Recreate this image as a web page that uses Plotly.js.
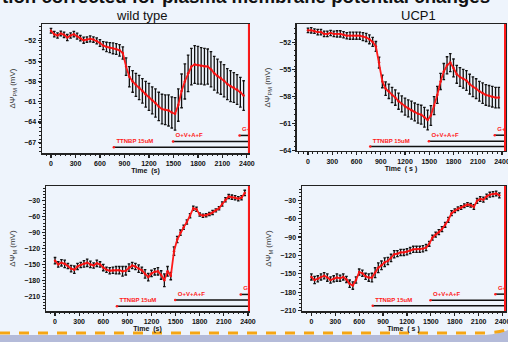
<!DOCTYPE html>
<html><head><meta charset="utf-8">
<script src="https://cdn.plot.ly/plotly-3.0.1.min.js"></script>
<style>html,body{margin:0;padding:0;background:#eef4fc}#chart{width:508px;height:342px}</style>
</head><body><div id="chart"></div>
<script>
const time = [0,40,80,120,160,200,240,280,320,360,400,440,480,520,560,600,640,680,720,760,800,840,880,920,960,1000,1040,1080,1120,1160,1200,1240,1280,1320,1360,1400,1440,1480,1520,1560,1600,1640,1680,1720,1760,1800,1840,1880,1920,1960,2000,2040,2080,2120,2160,2200,2240,2280,2320,2360];

const wtPM = [-50.5,-51.0,-51.2,-50.9,-51.1,-51.5,-51.2,-51.0,-51.3,-51.6,-51.9,-51.8,-51.7,-51.8,-52.0,
  -52.3,-52.7,-52.9,-53.0,-53.1,-53.2,-53.4,-53.8,
  -55.8,-57.3,-58.0,-58.5,-58.9,-59.4,-59.9,-60.3,-60.8,-61.2,-61.7,-62.1,-62.2,-62.3,-62.6,-62.8,
  -61.5,-59.4,-58.0,-56.8,-55.8,-55.5,-55.6,-55.7,-55.8,-55.8,-56.2,-56.8,-57.2,-57.5,-57.9,-58.4,-58.7,-58.9,-59.2,-59.6,-60.1];
const wtPMerr = [0.35,0.4,0.4,0.35,0.4,0.45,0.4,0.4,0.45,0.4,0.45,0.4,0.45,0.4,0.45,
  0.5,0.6,0.7,0.75,0.8,0.8,0.85,0.9,
  1.3,1.5,1.6,1.7,1.8,1.8,1.9,2.0,2.0,2.1,2.1,2.2,2.2,2.3,2.3,2.4,
  2.4,2.5,2.6,2.7,2.7,2.8,2.8,2.7,2.7,2.6,2.6,2.5,2.5,2.4,2.4,2.3,2.3,2.2,2.2,2.2,2.2];

const ucpPM = [-50.6,-50.6,-50.7,-50.8,-50.8,-51.0,-51.0,-50.9,-51.0,-51.0,-51.0,-51.1,-51.2,-51.2,-51.2,
  -51.2,-51.2,-51.3,-51.4,-51.6,-51.9,-52.4,-54.2,
  -56.3,-57.1,-57.4,-57.8,-58.1,-58.5,-58.8,-59.1,-59.3,-59.5,-59.7,-59.9,-60.0,-60.3,-60.6,-60.1,
  -59.0,-57.8,-56.3,-55.2,-54.5,-54.2,-54.8,-55.5,-55.8,-56.0,-56.2,-56.6,-56.9,-57.1,-57.4,-57.6,-57.8,-57.9,-58.0,-58.1,-58.1];
const ucpPMerr = [0.25,0.3,0.25,0.3,0.3,0.3,0.3,0.3,0.3,0.35,0.35,0.35,0.35,0.4,0.4,
  0.4,0.4,0.45,0.45,0.5,0.5,0.55,0.6,
  0.7,0.75,0.8,0.85,0.85,0.9,0.9,0.95,0.95,1.0,1.0,1.05,1.05,1.1,1.1,1.1,
  1.0,0.95,0.9,0.9,0.95,1.0,1.0,1.0,1.05,1.05,1.1,1.1,1.1,1.1,1.1,1.15,1.15,1.15,1.15,1.15,1.15];

const wtM = [-143,-150,-147,-149,-153,-158,-160,-154,-151,-149,-147,-150,-152,-148,-150,
  -156,-160,-162,-161,-161,-161,-163,-162,
  -156,-152,-154,-158,-161,-168,-174,-167,-164,-163,-170,-180,-163,-172,-125,-103,
  -90,-80,-70,-58,-44,-46,-56,-58,-57,-55,-52,-48,-44,-36,-28,-22,-23,-24,-26,-24,-15];
const wtMerr = [6,5,6,7,5,6,7,6,5,6,7,6,5,6,5,
  6,5,6,6,7,7,9,8,
  7,6,6,7,6,8,7,6,6,7,8,12,9,7,8,6,
  5,4,4,4,4,4,3,3,3,3,4,3,3,4,4,4,4,4,4,4,5];

const ucpM = [-155,-160,-158,-155,-153,-156,-160,-158,-156,-157,-155,-159,-166,-169,-160,
  -147,-149,-154,-156,-156,-148,-140,-136,
  -131,-129,-124,-118,-117,-115,-115,-114,-112,-110,-110,-110,-109,-107,-101,-91,
  -86,-82,-77,-70,-62,-51,-47,-44,-42,-39,-37,-38,-41,-31,-28,-29,-24,-21,-20,-19,-22];
const ucpMerr = [5,6,5,5,5,6,5,5,6,5,5,5,6,6,5,
  5,5,5,6,7,8,8,7,
  7,6,6,6,5,5,5,5,5,5,5,5,5,5,4,4,
  4,4,4,4,4,4,3,3,3,3,3,3,4,4,4,4,4,4,4,4,4];

const treatLabels = ['TTNBP 15uM','O+V+A+F','G+'];
const treatStart = [770,1495,2310];
const treatLevels = [[-67.75,-66.9,-66.0],[-63.56,-62.96,-62.29],[-228.8,-217.4,-206.7],[-202,-192.8,-183]];

const panelTitles = ['wild type','UCP1'];
const series = [wtPM, ucpPM, wtM, ucpM];
const errs = [wtPMerr, ucpPMerr, wtMerr, ucpMerr];
const yTitles = ['ΔΨ<sub>PM</sub> (mV)','ΔΨ<sub>PM</sub> (mV)','ΔΨ<sub>M</sub> (mV)','ΔΨ<sub>M</sub> (mV)'];
const xTitles = ['Time  (s)','Time  ( s )','Time  (s)','Time  ( s )'];

const doms = [
  {x:[0.0827,0.490], y:[0.5526,0.9298], xr:[-110,2425], yr:[-68.6,-49.5], t0:-52, dt:3},
  {x:[0.5846,0.9941], y:[0.5585,0.9298], xr:[-136,2437], yr:[-64.05,-49.9], t0:-52, dt:3},
  {x:[0.0906,0.490], y:[0.0906,0.4561], xr:[-112,2412], yr:[-238,-2], t0:-30, dt:30},
  {x:[0.5945,0.9941], y:[0.0906,0.4561], xr:[-118,2431], yr:[-210.5,-6.8], t0:-30, dt:30}
];

const tickFont = {family:'Liberation Sans, Arial', size:7, color:'#111', weight:'bold'};
const traces = [];
const layout = {
  width:508, height:342, margin:{l:0,r:0,t:0,b:0},
  paper_bgcolor:'#eef4fc', plot_bgcolor:'#eef4fc',
  showlegend:false, shapes:[], annotations:[]
};

doms.forEach((d,i)=>{
  const n = i+1;
  const xa = 'x'+(n===1?'':n), ya = 'y'+(n===1?'':n);
  const xk = 'xaxis'+(n===1?'':n), yk = 'yaxis'+(n===1?'':n);
  layout[xk] = {domain:d.x, range:d.xr, anchor:ya, tick0:0, dtick:300, ticklabeloverflow:'allow',
    showgrid:false, zeroline:false, showline:true, linecolor:'#222', linewidth:1.5, mirror:true,
    ticks:'outside', ticklen:3, tickwidth:1.2, tickcolor:'#222', tickfont:tickFont,
    minor:{ticks:'outside', ticklen:1.5, dtick:60, tickcolor:'#222', tickwidth:1},
    title:{text:xTitles[i], font:{family:'Liberation Sans, Arial', size:7, color:'#111', weight:'bold'}, standoff:2}};
  layout[yk] = {domain:d.y, range:d.yr, anchor:xa, tick0:d.t0, dtick:d.dt, ticklabeloverflow:'allow',
    showgrid:false, zeroline:false, showline:true, linecolor:'#222', linewidth:1.5, mirror:true,
    ticks:'outside', ticklen:3, tickwidth:1.2, tickcolor:'#222', tickfont:tickFont,
    minor:{ticks:'outside', ticklen:1.5, dtick:d.dt/5, tickcolor:'#222', tickwidth:1},
    title:{text:yTitles[i], font:{family:'Liberation Sans, Arial', size:8, color:'#333'}, standoff:7}};

  traces.push({type:'scatter', mode:'lines+markers', x:time, y:series[i], xaxis:xa, yaxis:ya,
    line:{color:'#ff1a1a', width:1.8}, marker:{color:'#ee1111', size:2.5},
    error_y:{type:'data', array:errs[i], visible:true, color:'#111', thickness:1.3, width:1.3}});

  treatLabels.forEach((lab,k)=>{
    traces.push({type:'scatter', mode:'lines', x:[treatStart[k], 2500], y:[treatLevels[i][k], treatLevels[i][k]],
      xaxis:xa, yaxis:ya, line:{color:'#111', width:1.5}, hoverinfo:'skip'});
    traces.push({type:'scatter', mode:'markers+text', x:[treatStart[k]], y:[treatLevels[i][k]],
      xaxis:xa, yaxis:ya, text:[lab], textposition:'top right', cliponaxis:true,
      textfont:{family:'Liberation Sans, Arial', size:6, color:'#ff1a1a', weight:'bold'},
      marker:{color:'#ff1a1a', size:2.5}, hoverinfo:'skip'});
  });

  layout.shapes.push({type:'line', xref:xa+' domain', yref:ya+' domain', x0:1, x1:1, y0:0, y1:1,
    line:{color:'#ff1a1a', width:2}});
});

panelTitles.forEach((t,k)=>{
  layout.annotations.push({text:t, xref:'paper', yref:'paper', x:[0.2795,0.823][k], y:0.956,
    xanchor:'center', yanchor:'middle', showarrow:false,
    font:{family:'Liberation Sans, Arial', size:13, color:'#111'}});
});
layout.annotations.push({text:'tion corrected for plasma membrane potential changes', xref:'paper', yref:'paper',
  x:0, y:1.048, xanchor:'left', yanchor:'top', showarrow:false,
  font:{family:'Liberation Sans, Arial', size:18.7, color:'#111', weight:'bold'}});

layout.shapes.push({type:'path', xref:'paper', yref:'paper', layer:'below',
  path:'M0,0.0205 L0.955,0.0205 Q0.985,0.024 1,0.035 L1,0 L0,0 Z', fillcolor:'#b4bbd9', line:{width:0}});
layout.shapes.push({type:'path', xref:'paper', yref:'paper',
  path:'M0,0.0263 L0.955,0.0263 Q0.985,0.028 1,0.038', line:{color:'#f5a614', width:3, dash:'10px,9px'}});

Plotly.newPlot('chart', traces, layout, {staticPlot:true});
</script></body></html>
